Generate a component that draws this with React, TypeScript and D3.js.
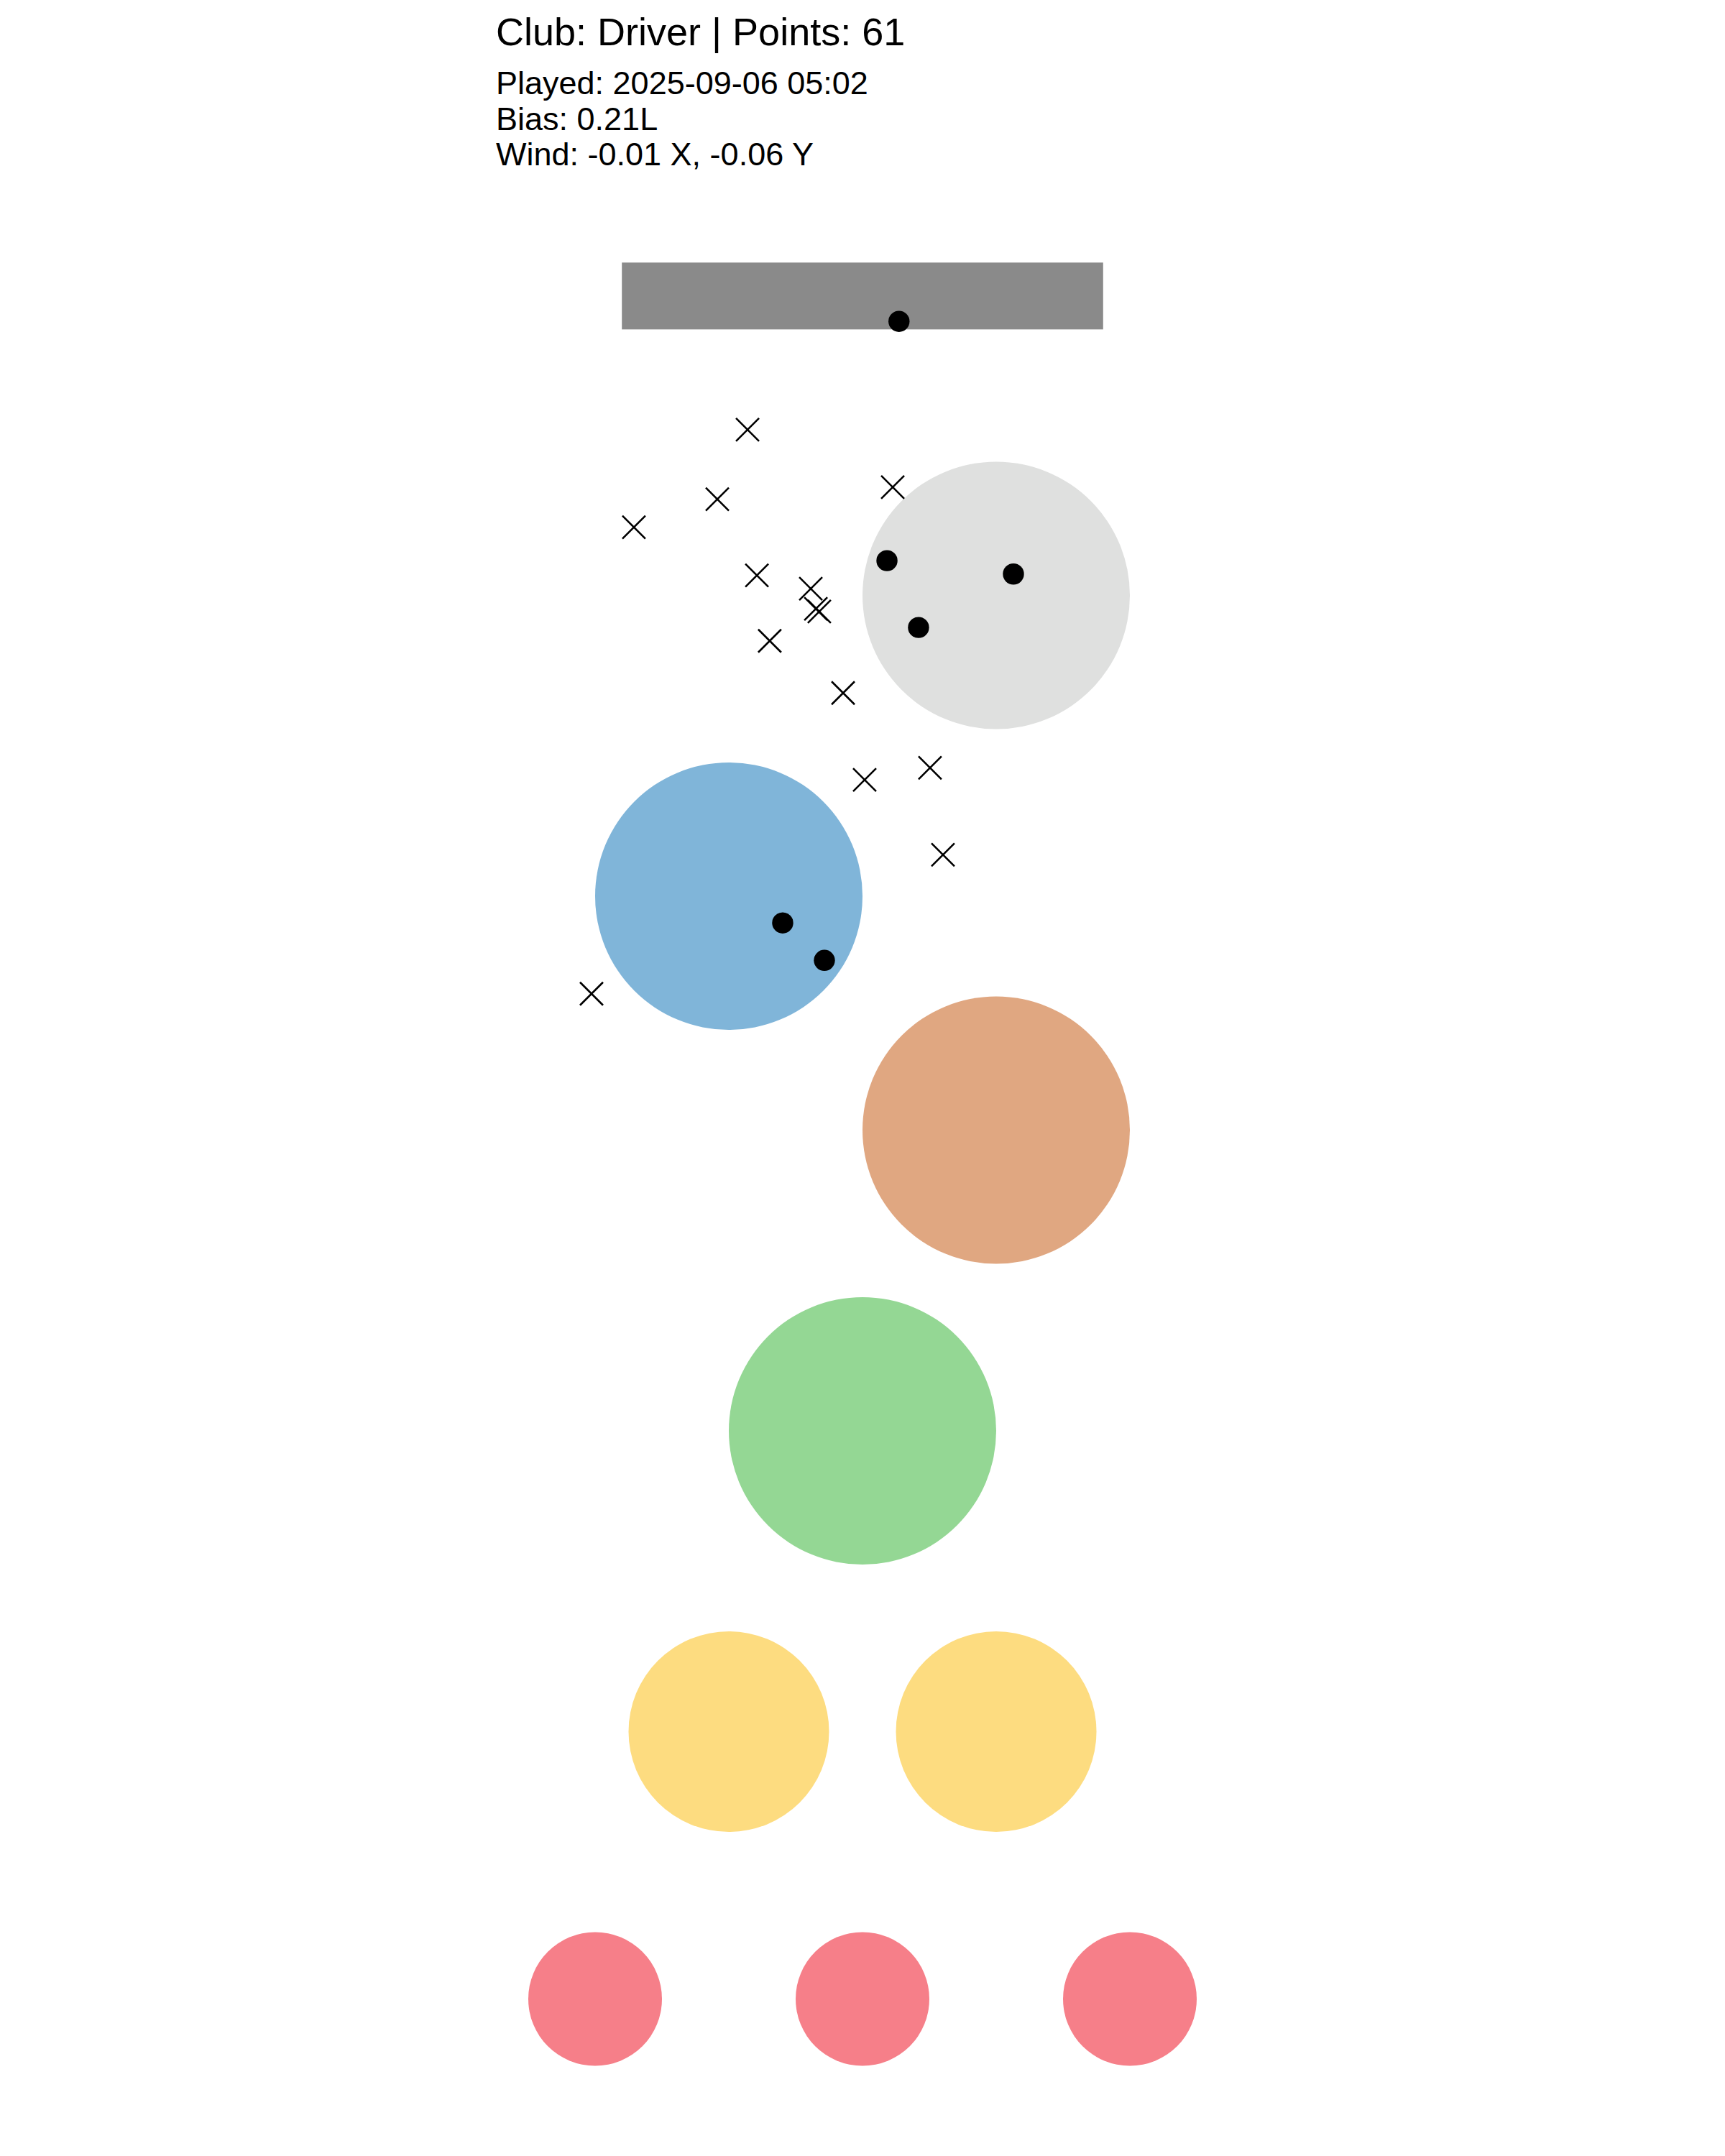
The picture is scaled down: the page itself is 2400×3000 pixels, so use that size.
import React, { useEffect, useRef } from 'react';
import * as d3 from 'd3';

// Header text
const title = 'Club: Driver | Points: 61';
const infoLines = ['Played: 2025-09-06 05:02', 'Bias: 0.21L', 'Wind: -0.01 X, -0.06 Y'];

// Targets (course units)
const targetX = [-2, 0, 2, -1, 1, 0, 1, -1, 1];
const targetY = [0, 0, 0, 2, 2, 4.25, 6.5, 8.25, 10.5];
const targetR = [0.5, 0.5, 0.5, 0.75, 0.75, 1, 1, 1, 1];
const targetColor = [
  '#f67f89', '#f67f89', '#f67f89',
  '#fddc80', '#fddc80',
  '#94d794',
  '#e0a781',
  '#80b5d9',
  '#dfe0df',
];

// Tee box
const teeX = [-1.8, 1.8];
const teeY = [12.49, 12.99];

// Shots that missed
const missX = [-0.86, -1.086, -1.71, -0.79, -0.387, -0.349, -0.323, -0.694, -0.145, 0.226, 0.016, 0.505, 0.602, -2.027];
const missY = [11.74, 11.22, 11.01, 10.65, 10.55, 10.4, 10.38, 10.16, 9.77, 11.31, 9.12, 9.21, 8.56, 7.52];

// Shots that landed
const hitX = [0.273, 0.183, 1.129, 0.419, -0.597, -0.285];
const hitY = [12.55, 10.76, 10.66, 10.26, 8.05, 7.77];

const width = 2400;
const height = 3000;

export default function App() {
  const svgRef = useRef<SVGSVGElement>(null);

  useEffect(() => {
    if (!svgRef.current) return;
    const svg = d3.select(svgRef.current);
    svg.selectAll('*').remove();

    const unit = 186;
    const xScale = d3.scaleLinear().domain([-3, 3]).range([1200 - 3 * unit, 1200 + 3 * unit]);
    const yScale = d3.scaleLinear().domain([0, 13]).range([2781.5, 2781.5 - 13 * unit]);
    const rScale = (r: number) => xScale(r) - xScale(0);

    svg.append('rect').attr('width', width).attr('height', height).attr('fill', '#fff');

    // Header
    const font = '"Liberation Sans", Arial, Helvetica, sans-serif';
    svg.append('text')
      .attr('x', 690)
      .attr('y', 63)
      .attr('font-family', font)
      .attr('font-size', 54)
      .attr('fill', '#000')
      .text(title);

    svg.selectAll('.info')
      .data(infoLines)
      .join('text')
      .attr('class', 'info')
      .attr('x', 690)
      .attr('y', (_, i) => 131 + i * 49.5)
      .attr('font-family', font)
      .attr('font-size', 45)
      .attr('fill', '#000')
      .text(d => d);

    // Tee box
    svg.append('rect')
      .attr('x', xScale(teeX[0]))
      .attr('y', yScale(teeY[1]))
      .attr('width', xScale(teeX[1]) - xScale(teeX[0]))
      .attr('height', yScale(teeY[0]) - yScale(teeY[1]))
      .attr('fill', '#8a8a8a');

    // Targets
    svg.selectAll('.target')
      .data(targetX.map((x, i) => ({ x, y: targetY[i], r: targetR[i], c: targetColor[i] })))
      .join('circle')
      .attr('class', 'target')
      .attr('cx', d => xScale(d.x))
      .attr('cy', d => yScale(d.y))
      .attr('r', d => rScale(d.r))
      .attr('fill', d => d.c);

    // Misses
    const cross = d3.symbol(d3.symbolTimes, 670);
    svg.selectAll('.miss')
      .data(missX.map((x, i) => ({ x, y: missY[i] })))
      .join('path')
      .attr('class', 'miss')
      .attr('transform', d => `translate(${xScale(d.x)},${yScale(d.y)})`)
      .attr('d', cross)
      .attr('fill', 'none')
      .attr('stroke', '#000')
      .attr('stroke-width', 2.6);

    // Hits
    svg.selectAll('.hit')
      .data(hitX.map((x, i) => ({ x, y: hitY[i] })))
      .join('circle')
      .attr('class', 'hit')
      .attr('cx', d => xScale(d.x))
      .attr('cy', d => yScale(d.y))
      .attr('r', 14.7)
      .attr('fill', '#000');
  }, []);

  return (
    <svg
      ref={svgRef}
      width={width}
      height={height}
      style={{ position: 'absolute', left: 0, top: 0, display: 'block' }}
    />
  );
}
